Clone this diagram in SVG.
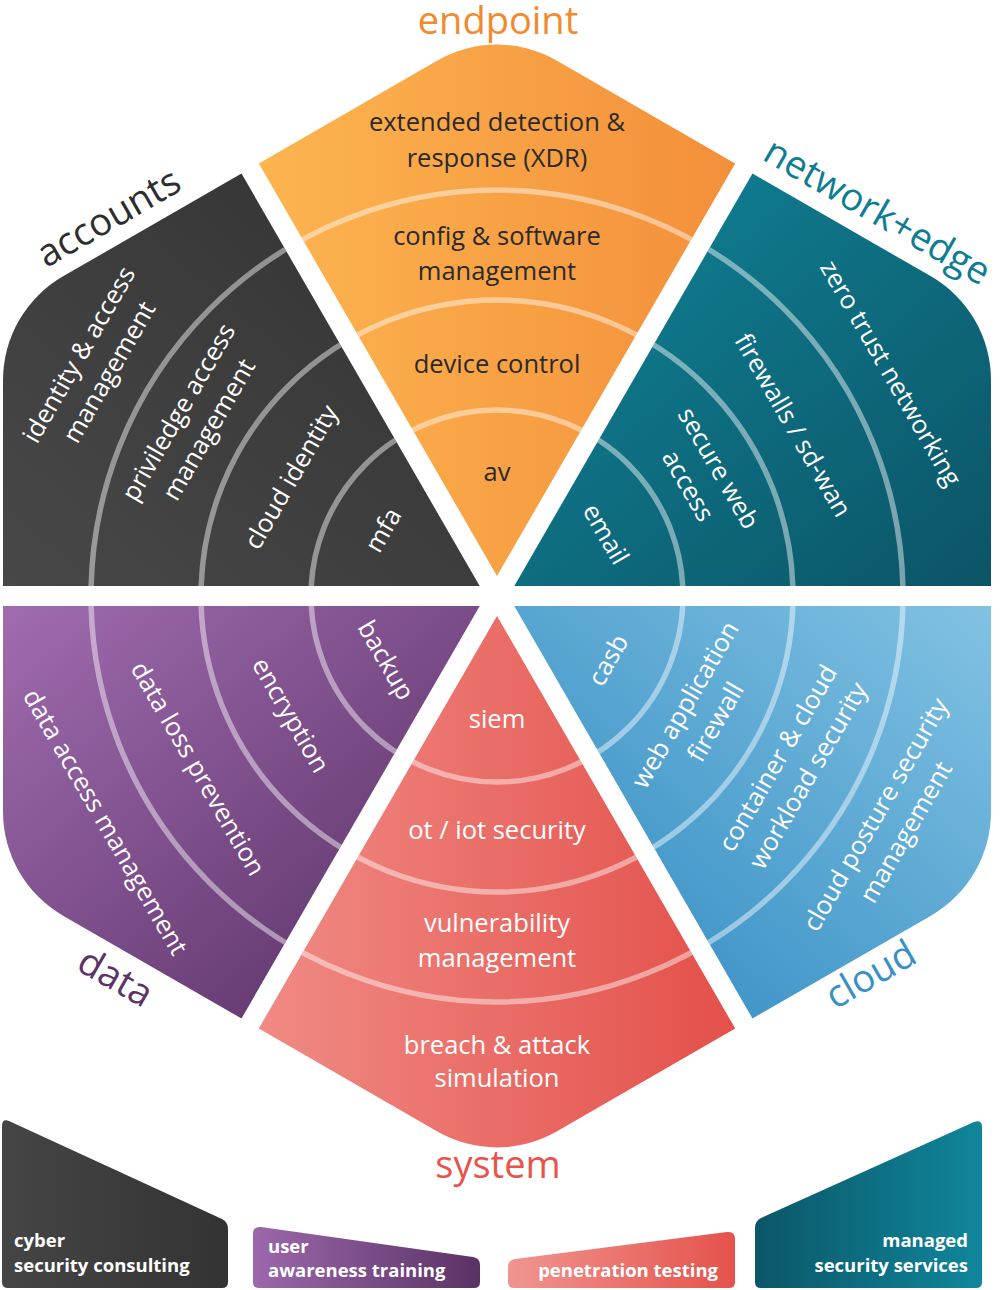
<svg xmlns="http://www.w3.org/2000/svg" xmlns:xlink="http://www.w3.org/1999/xlink" width="1000" height="1290" viewBox="0 0 1000 1290">
<style>
.in{font-family:"Open Sans","Noto Sans",sans-serif;font-size:25.5px;text-anchor:middle;fill:#ffffff}
.ink{fill:#2a2a2a}
.cat{font-family:"Open Sans","Noto Sans",sans-serif;font-size:38px;text-anchor:middle}
.box{font-family:"Open Sans","Noto Sans",sans-serif;font-size:18.5px;font-weight:bold;fill:#ffffff}
.ring{fill:none;stroke:#ffffff;stroke-opacity:0.45;stroke-width:5.5}
</style>
<defs>
<linearGradient id="gEnd" x1="0" y1="0" x2="1" y2="0"><stop offset="0" stop-color="#fdb550"/><stop offset="1" stop-color="#f38f3a"/></linearGradient>
<linearGradient id="gAcc" x1="1" y1="0" x2="0" y2="1"><stop offset="0" stop-color="#323232"/><stop offset="1" stop-color="#484848"/></linearGradient>
<linearGradient id="gNet" x1="0" y1="0" x2="1" y2="1"><stop offset="0" stop-color="#118599"/><stop offset="1" stop-color="#0b5466"/></linearGradient>
<linearGradient id="gDat" x1="0" y1="0" x2="1" y2="1"><stop offset="0" stop-color="#a06cb0"/><stop offset="1" stop-color="#552d60"/></linearGradient>
<linearGradient id="gClo" x1="1" y1="0" x2="0" y2="1"><stop offset="0" stop-color="#82c2e3"/><stop offset="1" stop-color="#2c88c0"/></linearGradient>
<linearGradient id="gSys" x1="0" y1="0" x2="1" y2="0"><stop offset="0" stop-color="#f08a84"/><stop offset="1" stop-color="#e4504a"/></linearGradient>
<linearGradient id="gB1" x1="0" y1="0" x2="1" y2="0"><stop offset="0" stop-color="#454545"/><stop offset="1" stop-color="#333333"/></linearGradient>
<linearGradient id="gB2" x1="0" y1="0" x2="1" y2="0"><stop offset="0" stop-color="#9c68ac"/><stop offset="1" stop-color="#5a3265"/></linearGradient>
<linearGradient id="gB3" x1="0" y1="0" x2="1" y2="0"><stop offset="0" stop-color="#f09590"/><stop offset="1" stop-color="#e5524b"/></linearGradient>
<linearGradient id="gB4" x1="0" y1="0" x2="1" y2="0"><stop offset="0" stop-color="#0b5668"/><stop offset="1" stop-color="#10869b"/></linearGradient>
<path id="pAcc" d="M479.7,586 L241.5,173.5 L63.05,276.35 A120,120 0 0 0 3,380.3 L3,586 Z"/>
<path id="pEnd" d="M497,576 L258.8,163.5 L436.95,60.65 A120,120 0 0 1 557.05,60.65 L735.2,163.5 Z"/>
<path id="pNet" d="M514.3,586 L752.5,173.5 L930.95,276.35 A120,120 0 0 1 991,380.3 L991,586 Z"/>
<path id="pDat" d="M479.7,606 L3,606 L3,811.7 A120,120 0 0 0 63.05,915.65 L241.5,1018.5 Z"/>
<path id="pClo" d="M514.3,606 L991,606 L991,811.7 A120,120 0 0 1 930.95,915.65 L752.5,1018.5 Z"/>
<path id="pSys" d="M497,616 L735.2,1028.5 L557.05,1131.35 A120,120 0 0 1 436.95,1131.35 L258.8,1028.5 Z"/>
<clipPath id="cAcc"><use xlink:href="#pAcc"/></clipPath>
<clipPath id="cEnd"><use xlink:href="#pEnd"/></clipPath>
<clipPath id="cNet"><use xlink:href="#pNet"/></clipPath>
<clipPath id="cDat"><use xlink:href="#pDat"/></clipPath>
<clipPath id="cClo"><use xlink:href="#pClo"/></clipPath>
<clipPath id="cSys"><use xlink:href="#pSys"/></clipPath>
<g id="rings"><circle class="ring" cx="497" cy="596" r="186"/><circle class="ring" cx="497" cy="596" r="296"/><circle class="ring" cx="497" cy="596" r="406"/></g>
</defs>
<rect width="1000" height="1290" fill="#ffffff"/>

<g id="endpoint">
<use xlink:href="#pEnd" fill="url(#gEnd)"/>
<use xlink:href="#rings" clip-path="url(#cEnd)"/>
<text class="cat" x="498" y="34" fill="#f28a30">endpoint</text>
<text class="in ink" x="497" y="131">extended detection &amp;</text>
<text class="in ink" x="497" y="167">response (XDR)</text>
<text class="in ink" x="497" y="245">config &amp; software</text>
<text class="in ink" x="497" y="280">management</text>
<text class="in ink" x="497" y="373">device control</text>
<text class="in ink" x="497" y="481">av</text>
</g>

<g id="accounts">
<use xlink:href="#pAcc" fill="url(#gAcc)"/>
<use xlink:href="#rings" clip-path="url(#cAcc)"/>
<text class="cat" transform="translate(110,220) rotate(-30)" y="10" fill="#2d2d2d">accounts</text>
<text class="in" transform="translate(94.3,363.5) rotate(-60)"><tspan x="0" y="-9">identity &amp; access</tspan><tspan x="0" y="26">management</tspan></text>
<text class="in" transform="translate(193.9,421) rotate(-60)"><tspan x="0" y="-9">priviledge access</tspan><tspan x="0" y="26">management</tspan></text>
<text class="in" transform="translate(290.9,477) rotate(-60)" y="9">cloud identity</text>
<text class="in" transform="translate(383,530) rotate(-60)" y="9">mfa</text>
</g>

<g id="network">
<use xlink:href="#pNet" fill="url(#gNet)"/>
<use xlink:href="#rings" clip-path="url(#cNet)"/>
<text class="cat" transform="translate(876,214) rotate(30)" y="10" fill="#0e7d93">network+edge</text>
<text class="in" transform="translate(891,373) rotate(60)" y="9">zero trust networking</text>
<text class="in" transform="translate(793.2,425) rotate(60)" y="9">firewalls / sd-wan</text>
<text class="in" transform="translate(703.1,477) rotate(60)"><tspan x="0" y="-9">secure web</tspan><tspan x="0" y="26">access</tspan></text>
<text class="in" transform="translate(606,534) rotate(60)" y="9">email</text>
</g>

<g id="data">
<use xlink:href="#pDat" fill="url(#gDat)"/>
<use xlink:href="#rings" clip-path="url(#cDat)"/>
<text class="cat" transform="translate(114,980) rotate(30)" y="10" fill="#5a3466">data</text>
<text class="in" transform="translate(386.1,660) rotate(60)" y="9">backup</text>
<text class="in" transform="translate(290.9,715) rotate(60)" y="9">encryption</text>
<text class="in" transform="translate(198.2,768.5) rotate(60)" y="9">data loss prevention</text>
<text class="in" transform="translate(105.6,822) rotate(60)" y="9">data access management</text>
</g>

<g id="cloud">
<use xlink:href="#pClo" fill="url(#gClo)"/>
<use xlink:href="#rings" clip-path="url(#cClo)"/>
<text class="cat" transform="translate(872,977) rotate(-30)" y="10" fill="#3990c8">cloud</text>
<text class="in" transform="translate(607.9,660) rotate(-60)" y="9">casb</text>
<text class="in" transform="translate(700.5,713.5) rotate(-60)"><tspan x="0" y="-9">web application</tspan><tspan x="0" y="26">firewall</tspan></text>
<text class="in" transform="translate(793.2,767) rotate(-60)"><tspan x="0" y="-9">container &amp; cloud</tspan><tspan x="0" y="26">workload security</tspan></text>
<text class="in" transform="translate(891,823.5) rotate(-60)"><tspan x="0" y="-9">cloud posture security</tspan><tspan x="0" y="26">management</tspan></text>
</g>

<g id="system">
<use xlink:href="#pSys" fill="url(#gSys)"/>
<use xlink:href="#rings" clip-path="url(#cSys)"/>
<text class="cat" x="498" y="1178" fill="#e8534b">system</text>
<text class="in" x="497" y="728">siem</text>
<text class="in" x="497" y="839">ot / iot security</text>
<text class="in" x="497" y="932">vulnerability</text>
<text class="in" x="497" y="967">management</text>
<text class="in" x="497" y="1054">breach &amp; attack</text>
<text class="in" x="497" y="1087">simulation</text>
</g>

<g id="consulting">
<path d="M2,1126 Q2,1118 9,1121 L222,1219 Q228,1222 228,1229 L228,1282 Q228,1288 222,1288 L8,1288 Q2,1288 2,1282 Z" fill="url(#gB1)"/>
<text class="box"><tspan x="14" y="1247">cyber</tspan><tspan x="14" y="1272">security consulting</tspan></text>
</g>
<g id="awareness">
<path d="M253,1234 Q253,1226 261,1227 L473,1257 Q480,1258 480,1265 L480,1282 Q480,1288 474,1288 L259,1288 Q253,1288 253,1282 Z" fill="url(#gB2)"/>
<text class="box"><tspan x="268" y="1253">user</tspan><tspan x="268" y="1277">awareness training</tspan></text>
</g>
<g id="pentest">
<path d="M508,1267 Q508,1260 515,1259 L727,1232 Q735,1231 735,1239 L735,1282 Q735,1288 729,1288 L514,1288 Q508,1288 508,1282 Z" fill="url(#gB3)"/>
<text class="box" x="718" y="1277" text-anchor="end">penetration testing</text>
</g>
<g id="mss">
<path d="M755,1228 Q755,1221 761,1218 L974,1122 Q982,1119 982,1127 L982,1282 Q982,1288 976,1288 L761,1288 Q755,1288 755,1282 Z" fill="url(#gB4)"/>
<text class="box" text-anchor="end"><tspan x="968" y="1247">managed</tspan><tspan x="968" y="1272">security services</tspan></text>
</g>
<g id="connectors"/>
</svg>
